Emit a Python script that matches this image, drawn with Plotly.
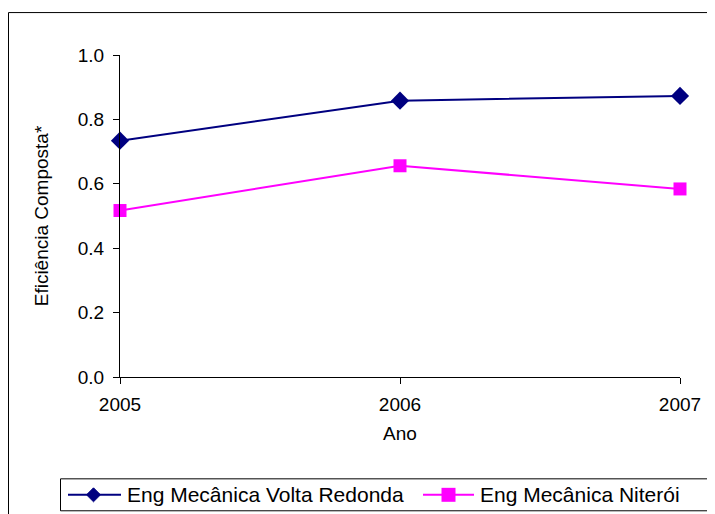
import plotly.graph_objects as go

years = [2005, 2006, 2007]
volta_redonda = [0.734, 0.858, 0.873]
niteroi = [0.517, 0.656, 0.584]
y_ticks = [0.0, 0.2, 0.4, 0.6, 0.8, 1.0]
y_tick_labels = ["0.0", "0.2", "0.4", "0.6", "0.8", "1.0"]
series_names = ["Eng Mecânica Volta Redonda", "Eng Mecânica Niterói"]
colors = ["#000080", "#FF00FF"]

fig = go.Figure()
fig.add_trace(go.Scatter(
    x=years, y=volta_redonda, mode="lines+markers",
    name=series_names[0],
    line=dict(color=colors[0], width=2),
    marker=dict(symbol="diamond", size=14, color=colors[0]),
    cliponaxis=False, showlegend=False,
))
fig.add_trace(go.Scatter(
    x=years, y=niteroi, mode="lines+markers",
    name=series_names[1],
    line=dict(color=colors[1], width=2),
    marker=dict(symbol="square", size=13, color=colors[1]),
    cliponaxis=False, showlegend=False,
))

# page offset (body margin) = 8px
OFF = 8
W, H = 715 - OFF, 514 - OFF
# plot area in page pixels
X0, X1, YT, YB = 120, 680, 55, 377.5
L = X0 - OFF
T = YT - OFF
R = W - (X1 - OFF)
B = H - (YB - OFF)
pw = X1 - X0
ph = YB - YT

def px(x):
    return (x - X0) / pw

def py(y):
    return (YB - y) / ph

shapes = [dict(
    type="rect", xref="paper", yref="paper",
    x0=px(8.5), x1=px(730), y0=py(530), y1=py(12.5),
    line=dict(color="black", width=1), fillcolor="rgba(0,0,0,0)", layer="below",
)]
# legend box
shapes.append(dict(type="rect", xref="paper", yref="paper",
                   x0=px(60.5), x1=px(711.5), y0=py(511.5), y1=py(479.5),
                   line=dict(color="black", width=1), fillcolor="white", layer="above"))
ly = 495.5
annotations = []
# item 1
shapes.append(dict(type="line", xref="paper", yref="paper",
                   x0=px(68), x1=px(121), y0=py(ly), y1=py(ly),
                   line=dict(color=colors[0], width=2)))
cx, d = 93.5, 7
shapes.append(dict(type="path", xref="paper", yref="paper",
                   path=f"M {px(cx-d)},{py(ly)} L {px(cx)},{py(ly-d)} L {px(cx+d)},{py(ly)} L {px(cx)},{py(ly+d)} Z",
                   line=dict(color=colors[0], width=1), fillcolor=colors[0]))
annotations.append(dict(text=series_names[0], xref="paper", yref="paper",
                        x=px(125), y=py(ly), xanchor="left", yanchor="middle",
                        showarrow=False, font=dict(size=21, color="black")))
# item 2
shapes.append(dict(type="line", xref="paper", yref="paper",
                   x0=px(423), x1=px(474), y0=py(ly), y1=py(ly),
                   line=dict(color=colors[1], width=2)))
cx, s = 448.5, 7
shapes.append(dict(type="rect", xref="paper", yref="paper",
                   x0=px(cx-s), x1=px(cx+s), y0=py(ly+s), y1=py(ly-s),
                   line=dict(color=colors[1], width=0), fillcolor=colors[1]))
annotations.append(dict(text=series_names[1], xref="paper", yref="paper",
                        x=px(478), y=py(ly), xanchor="left", yanchor="middle",
                        showarrow=False, font=dict(size=21, color="black")))

fig.update_layout(
    width=W, height=H,
    margin=dict(l=L, r=R, t=T, b=B, autoexpand=False),
    paper_bgcolor="white", plot_bgcolor="white",
    font=dict(family="Liberation Sans, Arial, sans-serif", color="black", size=19),
    showlegend=False,
    xaxis=dict(
        range=[2005, 2007], tickvals=years, ticktext=[str(y) for y in years],
        showline=True, linecolor="black", linewidth=1, mirror=False,
        ticks="outside", ticklen=6, tickcolor="black", showgrid=False, zeroline=False,
        ticklabelstandoff=4,
        title=dict(text="Ano", font=dict(size=19), standoff=12),
    ),
    yaxis=dict(
        range=[0, 1], tickvals=y_ticks, ticktext=y_tick_labels,
        showline=True, linecolor="black", linewidth=1,
        ticks="outside", ticklen=6, tickcolor="black", showgrid=False, zeroline=False,
        ticklabelstandoff=5,
        title=dict(text="Eficiência Composta*", font=dict(size=19), standoff=24),
    ),
    shapes=shapes,
    annotations=annotations,
)

fig.write_html("out.html")
